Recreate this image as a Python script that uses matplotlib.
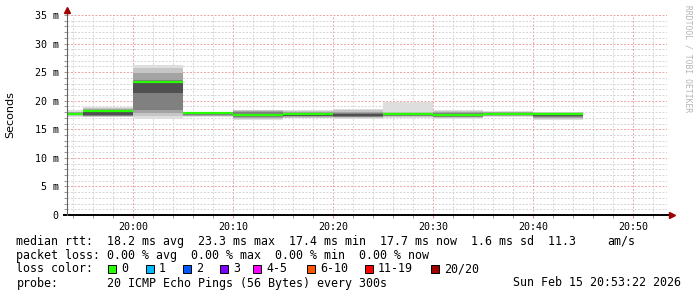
import datetime as dt
import matplotlib
matplotlib.use("Agg")
import matplotlib.pyplot as plt
import matplotlib.dates as mdates
import numpy as np
from matplotlib.patches import Rectangle

# --- data ------------------------------------------------------------------
day = "2026-02-15"
seg_edges = ["19:53:22", "19:55", "20:00", "20:05", "20:10", "20:15",
             "20:20", "20:25", "20:30", "20:35", "20:40", "20:45"]
view_start = "19:53:22"
view_end = "20:53:22"

# median rtt per 5 min step (ms); None = no median line drawn
median_ms = [17.7, 18.25, 23.3, 17.85, 17.5, 17.6, None, 17.6, 17.5, 17.7, 17.75]

# smoke bands, outermost (lightest) -> innermost (darkest), ms
smoke_lo = [
    [17.2, 17.4, 17.5, 17.6, 17.65],
    [17.1, 17.2, 17.3, 17.4, 17.5],
    [16.75, 17.3, 17.9, 18.4, 21.3],
    [17.2, 17.3, 17.4, 17.5, 17.6],
    [16.6, 16.8, 17.0, 17.2, 17.3],
    [16.9, 17.0, 17.2, 17.3, 17.4],
    [16.8, 17.0, 17.1, 17.2, 17.3],
    [17.0, 17.2, 17.3, 17.4, 17.5],
    [16.8, 17.0, 17.1, 17.2, 17.3],
    [17.15, 17.3, 17.4, 17.5, 17.6],
    [16.6, 16.8, 17.0, 17.2, 17.35],
]
smoke_hi = [
    [18.3, 18.1, 18.0, 17.9, 17.8],
    [18.9, 18.7, 18.5, 18.3, 18.2],
    [26.2, 25.7, 24.8, 23.6, 23.4],
    [18.1, 18.05, 18.0, 17.95, 17.9],
    [18.45, 18.3, 18.2, 18.0, 17.7],
    [18.45, 18.2, 18.0, 17.9, 17.8],
    [18.55, 18.3, 18.0, 17.8, 17.6],
    [19.7, 18.1, 17.9, 17.8, 17.7],
    [18.4, 18.2, 18.0, 17.8, 17.7],
    [18.2, 18.1, 18.0, 17.9, 17.8],
    [18.1, 18.0, 17.9, 17.8, 17.7],
]
smoke_colors = ["#dedede", "#c6c6c6", "#a4a4a4", "#808080", "#505050"]

y_ticks = [0, 5, 10, 15, 20, 25, 30, 35]

rtt_items = ["median rtt:", "18.2 ms avg", "23.3 ms max", "17.4 ms min",
             "17.7 ms now", "1.6 ms sd", "11.3"]
rtt_unit = "am/s"
loss_items = ["packet loss:", "0.00 % avg", "0.00 % max", "0.00 % min", "0.00 % now"]
loss_labels = ["0", "1", "2", "3", "4-5", "6-10", "11-19", "20/20"]
loss_colors = ["#26ff00", "#00b8ff", "#0059ff", "#7e00ff", "#ff00ff",
               "#ff5500", "#ff0000", "#a10000"]
probe_text = "20 ICMP Echo Pings (56 Bytes) every 300s"
stamp_text = "Sun Feb 15 20:53:22 2026"


def tt(s):
    fmt = "%Y-%m-%d %H:%M:%S" if s.count(":") == 2 else "%Y-%m-%d %H:%M"
    return dt.datetime.strptime(day + " " + s, fmt)


W, H = 697, 297
mono = "DejaVu Sans Mono"


def fx(x):
    return x / W


def fy(y):
    return 1 - y / H


fig = plt.figure(figsize=(W / 100, H / 100), dpi=100)
fig.patch.set_facecolor("white")
ax = fig.add_axes([fx(67), fy(215), 600 / W, 200 / H])
ax.set_facecolor("white")

edges = [tt(s) for s in seg_edges]
x0, x1 = tt(view_start), tt(view_end)

# smoke
for lvl, col in enumerate(smoke_colors):
    lo = [row[lvl] for row in smoke_lo]
    hi = [row[lvl] for row in smoke_hi]
    lo.append(lo[-1])
    hi.append(hi[-1])
    ax.fill_between(edges, lo, hi, step="post", color=col, linewidth=0, zorder=2)

# median line
for i, m in enumerate(median_ms):
    if m is None:
        continue
    ax.hlines(m, edges[i], edges[i + 1], color="#26ff00", linewidth=1.6, zorder=4)

ax.set_xlim(x0, x1)
ax.set_ylim(0, 35)

ax.xaxis.set_major_locator(mdates.MinuteLocator(byminute=range(0, 60, 10)))
ax.xaxis.set_minor_locator(mdates.MinuteLocator(byminute=range(0, 60, 2)))
ax.xaxis.set_major_formatter(mdates.DateFormatter("%H:%M"))
ax.set_yticks(y_ticks)
ax.set_yticklabels(["0" if v == 0 else "%d m" % v for v in y_ticks])
ax.set_yticks(np.arange(0, 36, 1), minor=True)

ax.grid(which="minor", color="#d6d6d6", linestyle=(0, (2, 1.5)), linewidth=0.72, zorder=1)
ax.grid(which="major", color="#eaa8a8", linestyle=(0, (2, 1.5)), linewidth=0.72, zorder=1)
ax.set_axisbelow(True)

for s in ax.spines.values():
    s.set_visible(False)
ax.tick_params(which="both", labelsize=7.2, length=2, width=0.7, color="#999999")
ax.tick_params(axis="x", which="major", pad=3, color="#e08080")
ax.tick_params(axis="y", which="major", pad=4)
for lab in ax.get_xticklabels() + ax.get_yticklabels():
    lab.set_family(mono)

# axis lines with arrow heads
ax.plot([-0.006, 1.008], [0, 0], transform=ax.transAxes, color="black",
        linewidth=1.4, clip_on=False, zorder=6, solid_capstyle="butt")
ax.plot([0, 0], [0, 1.02], transform=ax.transAxes, color="#606060",
        linewidth=0.8, clip_on=False, zorder=6)
ax.plot([1.008], [0], transform=ax.transAxes, marker=">", markersize=4,
        color="#a00000", clip_on=False, zorder=7)
ax.plot([0], [1.025], transform=ax.transAxes, marker="^", markersize=4,
        color="#a00000", clip_on=False, zorder=7)

fig.text(fx(10), fy(115), "Seconds", rotation=90, ha="center", va="center",
         fontsize=8, family="DejaVu Sans")
fig.text(fx(688), fy(5), "RRDTOOL / TOBI OETIKER", rotation=270, ha="center",
         va="top", fontsize=5.8, family=mono, color="#b4b4b4")

# legend block (monospaced, two blanks between items)
fs = 8.4
fig.text(fx(16.5), fy(241), "  ".join(rtt_items), fontsize=fs, family=mono, va="center")
fig.text(fx(607), fy(241), rtt_unit, fontsize=fs, family=mono, va="center")
fig.text(fx(16.5), fy(255), loss_items[0] + " " + "  ".join(loss_items[1:]),
         fontsize=fs, family=mono, va="center")

fig.text(fx(16.5), fy(269), "loss color:", fontsize=fs, family=mono, va="center")
box_x = [108, 146, 183, 220, 253, 307, 365, 431]
for x, lab, col in zip(box_x, loss_labels, loss_colors):
    fig.add_artist(Rectangle((fx(x), fy(273)), 8 / W, 8 / H, transform=fig.transFigure,
                             facecolor=col, edgecolor="black", linewidth=0.7))
    fig.text(fx(x + 13), fy(269), lab, fontsize=fs, family=mono, va="center")

fig.text(fx(16.5), fy(283), "probe:", fontsize=fs, family=mono, va="center")
fig.text(fx(107), fy(283), probe_text, fontsize=fs, family=mono, va="center")
fig.text(fx(513), fy(283), stamp_text, fontsize=fs, family=mono, va="center")

fig.savefig("out.png", dpi=100, facecolor="white")
